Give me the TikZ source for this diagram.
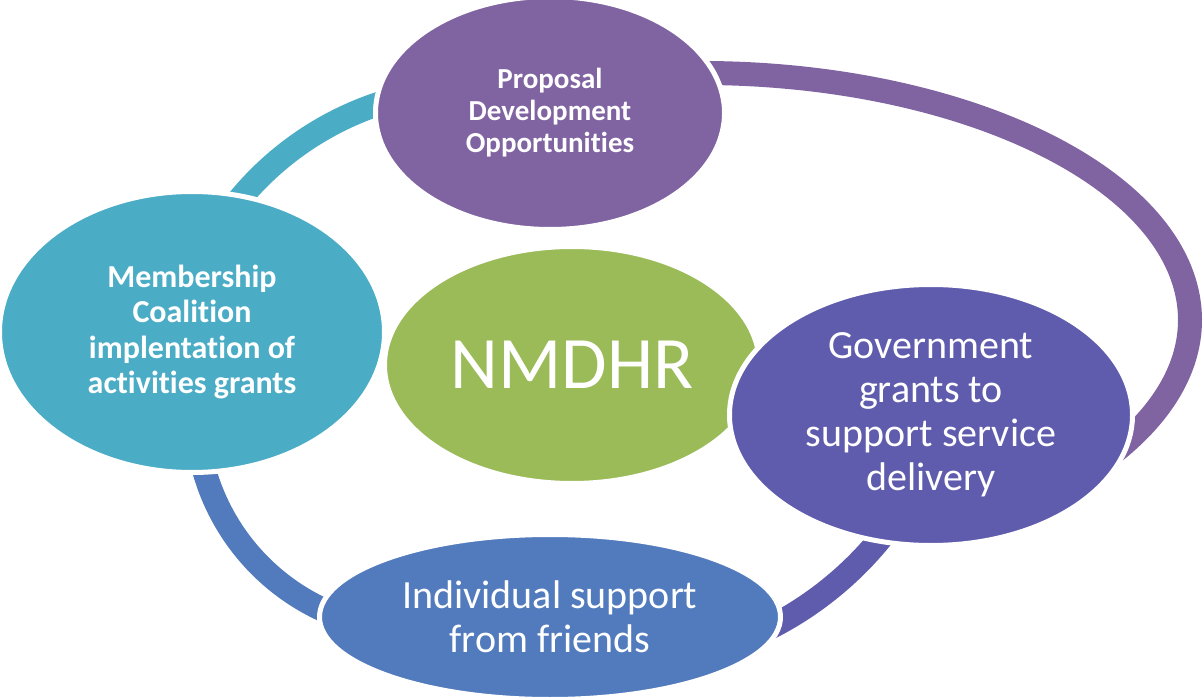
\documentclass[tikz,border=0pt]{standalone}
\usepackage{fontspec}
\setmainfont{Carlito}[Ligatures=NoCommon]
\usetikzlibrary{shapes.geometric}
\definecolor{cTop}{HTML}{8064A2}
\definecolor{cLeft}{HTML}{4BACC6}
\definecolor{cGreen}{HTML}{9BBB59}
\definecolor{cRight}{HTML}{605CAD}
\definecolor{cBottom}{HTML}{527BBD}
\begin{document}
\begin{tikzpicture}[x=1pt,y=1pt,
  blob/.style={ellipse, draw=white, line width=5pt, inner sep=0pt, text=white, align=center},
  band/.style={line width=24pt, line cap=butt}]
\useasboundingbox (0,-698) rectangle (1203,0);
% connector arcs (drawn first, nodes cover their ends)
\coordinate (arcTR) at (648.78,-74.35);
\coordinate (arcLT) at (218.53,-227.8);
\coordinate (arcBL) at (199.33,-449.03);
\coordinate (arcRB) at (895.79,-518.31);
\draw[band, draw=cTop]    (arcTR) arc[start angle=96,  end angle=-41, x radius=490, y radius=247];
\draw[band, draw=cLeft]   (arcLT) arc[start angle=147, end angle=103, radius=307];
\draw[band, draw=cBottom] (arcBL) arc[start angle=190, end angle=252, radius=219];
\draw[band, draw=cRight]  (arcRB) arc[start angle=-35, end angle=-66, radius=344];
% nodes
\node[blob, fill=cTop, minimum width=349pt, minimum height=233pt,
      font=\bfseries\fontsize{29}{32}\selectfont] (top) at (550,-113)
      {Proposal\\Development\\Opportunities};
\node[blob, fill=cLeft, minimum width=385pt, minimum height=281pt,
      font=\bfseries\fontsize{32}{35.2}\selectfont] (left) at (192,-332)
      {Membership\\Coalition\\implentation of\\activities grants};
\node[blob, fill=cGreen, minimum width=375pt, minimum height=237pt,
      font=\fontsize{74}{80}\selectfont] (center) at (572,-365) {NMDHR};
\node[blob, fill=cRight, minimum width=403pt, minimum height=261pt,
      font=\fontsize{40}{44}\selectfont] (right) at (931,-415)
      {Government\\grants to\\support service\\delivery};
\node[blob, fill=cBottom, minimum width=461pt, minimum height=165pt,
      font=\fontsize{40}{44}\selectfont] (bottom) at (550,-617)
      {Individual support\\from friends};
\end{tikzpicture}
\end{document}
